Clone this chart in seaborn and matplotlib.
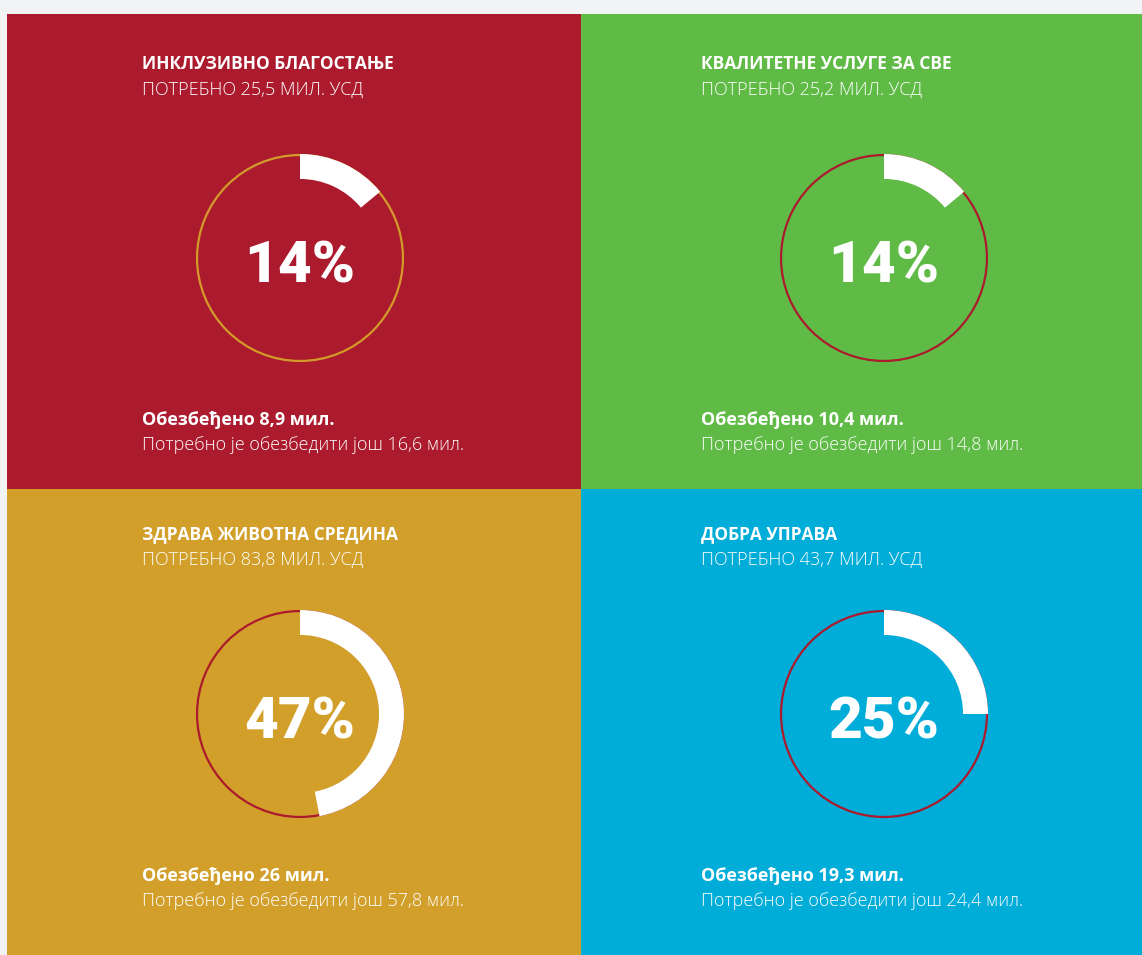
import matplotlib
matplotlib.use("Agg")
import matplotlib.pyplot as plt
import seaborn as sns
from matplotlib.patches import Circle

sns.set_theme(style="white")
plt.rcParams['font.family'] = ['Open Sans', 'Noto Sans', 'DejaVu Sans']

# ---- data ----
titles = ["ИНКЛУЗИВНО БЛАГОСТАЊЕ", "КВАЛИТЕТНЕ УСЛУГЕ ЗА СВЕ",
          "ЗДРАВА ЖИВОТНА СРЕДИНА", "ДОБРА УПРАВА"]
needed = [25.5, 25.2, 83.8, 43.7]
secured = [8.9, 10.4, 26, 19.3]
remaining = [16.6, 14.8, 57.8, 24.4]
percents = [14, 14, 47, 25]
panel_colors = ["#ab1a2d", "#5fbb46", "#d19f2a", "#00acd8"]
ring_colors = ["#d49a2a", "#ab1a2d", "#ab1a2d", "#ab1a2d"]

W, H = 1142, 955
fig = plt.figure(figsize=(W / 100, H / 100), dpi=100)
fig.patch.set_facecolor("#f2f3f5")


def fx(x):
    return x / W


def fy(y):
    return 1 - y / H


def fmt(v):
    return f"{v:g}".replace(".", ",")


# panel geometry (pixels)
col_x = [(7, 581), (581, 1142)]
row_y = [(14, 489), (489, 955)]
circ_cx = [300, 884]
circ_cy = [258, 714]
text_x = [142, 701]
title_y = [64, 534]
bottom_y = [420, 876]
R = 104

for i in range(4):
    r, c = divmod(i, 2)
    x0, x1 = col_x[c]
    y0, y1 = row_y[r]
    pax = fig.add_axes([fx(x0), fy(y1), fx(x1 - x0), (y1 - y0) / H])
    pax.set_facecolor(panel_colors[i])
    pax.set_xticks([])
    pax.set_yticks([])
    for s in pax.spines.values():
        s.set_visible(False)

    # donut
    lim = 1.2
    side = 2 * lim * R
    cx, cy = circ_cx[c], circ_cy[r]
    ax = fig.add_axes([fx(cx - side / 2), fy(cy + side / 2), side / W, side / H])
    ax.set_facecolor("none")
    ax.pie([percents[i], 100 - percents[i]], colors=["white", "none"],
           startangle=90, counterclock=False, radius=1.0,
           wedgeprops=dict(width=0.24, linewidth=0))
    ax.add_patch(Circle((0, 0), 0.99, fill=False, lw=1.6,
                        edgecolor=ring_colors[i], zorder=0))
    ax.set_xlim(-lim, lim)
    ax.set_ylim(-lim, lim)
    ax.set_aspect("equal")
    ax.axis("off")
    ax.text(0, -0.03, f"{percents[i]}%", ha="center", va="center_baseline",
            color="white", fontsize=42, fontweight="black",
            family=["Roboto", "DejaVu Sans"])

    tx = text_x[c]
    fig.text(fx(tx), fy(title_y[r]), titles[i], ha="left", va="center",
             color="white", fontsize=12.5, fontweight="bold")
    fig.text(fx(tx), fy(title_y[r] + 26), f"ПОТРЕБНО {fmt(needed[i])} МИЛ. УСД",
             ha="left", va="center", color="white", fontsize=13,
             fontweight="light")
    fig.text(fx(tx), fy(bottom_y[r]), f"Обезбеђено {fmt(secured[i])} мил.",
             ha="left", va="center", color="white", fontsize=13,
             fontweight="bold")
    fig.text(fx(tx), fy(bottom_y[r] + 25),
             f"Потребно је обезбедити још {fmt(remaining[i])} мил.",
             ha="left", va="center", color="white", fontsize=13,
             fontweight="light")

fig.savefig("out.png", dpi=100, facecolor=fig.get_facecolor())
